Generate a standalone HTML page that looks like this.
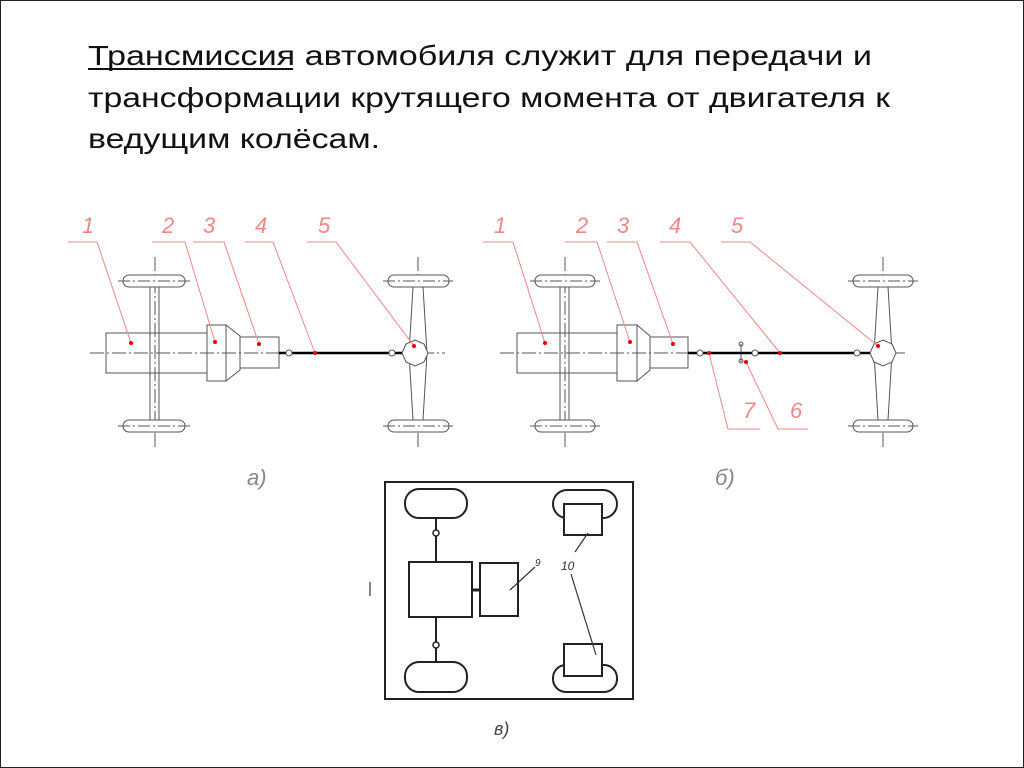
<!DOCTYPE html>
<html><head><meta charset="utf-8"><style>
html,body{margin:0;padding:0;background:#fff;}
svg{display:block;}
</style></head><body>
<svg width="1024" height="768" viewBox="0 0 1024 768" xmlns="http://www.w3.org/2000/svg" font-family="Liberation Sans, sans-serif">
<rect x="0.5" y="0.5" width="1023" height="767" fill="#fff" stroke="#222" stroke-width="1"/>
<g font-size="28" fill="#111">
<text x="88" y="65" textLength="784" lengthAdjust="spacingAndGlyphs">Трансмиссия автомобиля служит для передачи и</text>
<text x="88" y="107" textLength="802" lengthAdjust="spacingAndGlyphs">трансформации крутящего момента от двигателя к</text>
<text x="88" y="148" textLength="292" lengthAdjust="spacingAndGlyphs">ведущим колёсам.</text>
</g>
<line x1="88" y1="69" x2="293" y2="69" stroke="#111" stroke-width="2"/>

<!-- Diagram a -->
<g fill="none" stroke="#555" stroke-width="1">
 <!-- centerlines -->
 <line x1="90" y1="353" x2="445" y2="353" stroke-dasharray="14,3,2,3"/>
 <line x1="155" y1="257" x2="155" y2="448" stroke-dasharray="14,3,2,3"/>
 <line x1="418" y1="257" x2="418" y2="448" stroke-dasharray="14,3,2,3"/>
 <!-- front axle -->
 <line x1="150" y1="287" x2="150" y2="420"/><line x1="159" y1="287" x2="159" y2="420"/>
 <rect x="123" y="275" width="62" height="12" rx="6" fill="#fff"/>
 <rect x="123" y="420" width="62" height="12" rx="6" fill="#fff"/>
 <line x1="118" y1="281" x2="190" y2="281" stroke-dasharray="12,3,2,3"/>
 <line x1="118" y1="426" x2="190" y2="426" stroke-dasharray="12,3,2,3"/>
 <!-- rear axle -->
 <polygon points="413,287 423,287 427,353 423,420 413,420 409,353" fill="#fff"/>
 <rect x="388" y="275" width="61" height="12" rx="6" fill="#fff"/>
 <rect x="388" y="420" width="61" height="12" rx="6" fill="#fff"/>
 <line x1="383" y1="281" x2="453" y2="281" stroke-dasharray="12,3,2,3"/>
 <line x1="383" y1="426" x2="453" y2="426" stroke-dasharray="12,3,2,3"/>
 <!-- engine etc -->
 <rect x="106" y="333" width="101" height="40" fill="none"/>
 <rect x="207" y="325" width="19" height="56" fill="#fff"/>
 <polygon points="226,325 240,336 240,370 226,381" fill="#fff"/>
 <rect x="240" y="337" width="39" height="31" fill="#fff"/>
 <line x1="90" y1="353" x2="290" y2="353" stroke-dasharray="14,3,2,3"/>
</g>
<line x1="279" y1="353" x2="406" y2="353" stroke="#000" stroke-width="2.5"/>
<g fill="#fff" stroke="#555"><circle cx="289" cy="353" r="3"/><circle cx="392" cy="353" r="3"/>
<polygon points="415,340 424,344 428,353 424,362 415,366 406,362 402,353 406,344"/></g>
<g stroke="#e88" stroke-width="1" fill="none">
 <polyline points="68,242 97,242 131,343"/>
 <polyline points="152,242 185,242 215,342"/>
 <polyline points="193,242 224,242 259,344"/>
 <polyline points="245,242 273,242 315,353"/>
 <polyline points="307,242 336,242 414,346"/>
</g>
<g fill="#e00"><circle cx="131" cy="343" r="2"/><circle cx="215" cy="342" r="2"/><circle cx="259" cy="344" r="2"/><circle cx="315" cy="353" r="2"/><circle cx="414" cy="346" r="2"/></g>
<g fill="#e88" font-size="22" font-style="italic">
<text x="82" y="233">1</text><text x="162" y="233">2</text><text x="203" y="233">3</text><text x="255" y="233">4</text><text x="318" y="233">5</text>
</g>
<text x="247" y="485" font-size="22" font-style="italic" fill="#888">а)</text>

<!-- Diagram b -->
<g fill="none" stroke="#555" stroke-width="1">
 <line x1="500" y1="353" x2="905" y2="353" stroke-dasharray="14,3,2,3"/>
 <line x1="565" y1="257" x2="565" y2="448" stroke-dasharray="14,3,2,3"/>
 <line x1="883" y1="257" x2="883" y2="448" stroke-dasharray="14,3,2,3"/>
 <line x1="560" y1="287" x2="560" y2="420"/><line x1="569" y1="287" x2="569" y2="420"/>
 <rect x="535" y="275" width="60" height="12" rx="6" fill="#fff"/>
 <rect x="535" y="420" width="60" height="12" rx="6" fill="#fff"/>
 <line x1="530" y1="281" x2="600" y2="281" stroke-dasharray="12,3,2,3"/>
 <line x1="530" y1="426" x2="600" y2="426" stroke-dasharray="12,3,2,3"/>
 <polygon points="878,287 888,287 892,353 888,420 878,420 874,353" fill="#fff"/>
 <rect x="853" y="275" width="60" height="12" rx="6" fill="#fff"/>
 <rect x="853" y="420" width="60" height="12" rx="6" fill="#fff"/>
 <line x1="848" y1="281" x2="918" y2="281" stroke-dasharray="12,3,2,3"/>
 <line x1="848" y1="426" x2="918" y2="426" stroke-dasharray="12,3,2,3"/>
 <rect x="517" y="333" width="100" height="40"/>
 <rect x="617" y="325" width="20" height="56" fill="#fff"/>
 <polygon points="637,325 650,336 650,370 637,381" fill="#fff"/>
 <rect x="650" y="337" width="38" height="31" fill="#fff"/>
 <line x1="500" y1="353" x2="695" y2="353" stroke-dasharray="14,3,2,3"/>
 <line x1="741" y1="344" x2="741" y2="362"/><circle cx="741" cy="344" r="2"/><circle cx="741" cy="361" r="2"/>
</g>
<line x1="688" y1="353" x2="872" y2="353" stroke="#000" stroke-width="2.5"/>
<g fill="#fff" stroke="#555"><circle cx="700" cy="353" r="3"/><circle cx="755" cy="353" r="3"/><circle cx="857" cy="353" r="3"/>
<polygon points="883,340 892,344 896,353 892,362 883,366 874,362 870,353 874,344"/></g>
<g stroke="#e88" stroke-width="1" fill="none">
 <polyline points="483,242 513,242 545,343"/>
 <polyline points="565,242 597,242 630,342"/>
 <polyline points="607,242 637,242 673,344"/>
 <polyline points="660,242 690,242 780,353"/>
 <polyline points="721,242 750,242 878,346"/>
 <polyline points="709,353 728,429 760,429"/>
 <polyline points="746,362 778,429 808,429"/>
</g>
<g fill="#e00"><circle cx="545" cy="343" r="2"/><circle cx="630" cy="342" r="2"/><circle cx="673" cy="344" r="2"/><circle cx="780" cy="353" r="2"/><circle cx="878" cy="346" r="2"/><circle cx="709" cy="353" r="2"/><circle cx="746" cy="362" r="2"/></g>
<g fill="#e88" font-size="22" font-style="italic">
<text x="494" y="233">1</text><text x="576" y="233">2</text><text x="617" y="233">3</text><text x="669" y="233">4</text><text x="731" y="233">5</text>
<text x="743" y="418">7</text><text x="790" y="418">6</text>
</g>
<text x="715" y="485" font-size="22" font-style="italic" fill="#888">б)</text>

<!-- Diagram v -->
<g fill="none" stroke="#222" stroke-width="2">
 <rect x="385" y="482" width="248" height="217"/>
 <rect x="405" y="489" width="62" height="29" rx="14" fill="#fff"/>
 <rect x="405" y="662" width="62" height="30" rx="14" fill="#fff"/>
 <line x1="436" y1="518" x2="436" y2="562"/><line x1="436" y1="617" x2="436" y2="662"/>
 <rect x="409" y="562" width="63" height="55" fill="#fff"/>
 <line x1="472" y1="590" x2="480" y2="590" stroke-width="3"/>
 <rect x="480" y="563" width="38" height="53" fill="#fff"/>
 <rect x="553" y="490" width="64" height="28" rx="14" fill="#fff"/>
 <rect x="564" y="504" width="38" height="31" fill="#fff"/>
 <rect x="553" y="665" width="64" height="27" rx="13" fill="#fff"/>
 <rect x="564" y="644" width="38" height="32" fill="#fff"/>
</g>
<g fill="#fff" stroke="#222" stroke-width="1.5"><circle cx="436" cy="533" r="3"/><circle cx="436" cy="645" r="3"/></g>
<g stroke="#333" stroke-width="1.2" fill="none">
 <line x1="510" y1="590" x2="535" y2="567"/>
 <line x1="588" y1="533" x2="575" y2="552"/>
 <line x1="571" y1="574" x2="596" y2="655"/>
 <line x1="370" y1="582" x2="370" y2="596"/>
</g>
<text x="535" y="566" font-size="10" font-style="italic" fill="#333">9</text>
<text x="561" y="570" font-size="12" font-style="italic" fill="#333">10</text>
<text x="494" y="735" font-size="18" font-style="italic" fill="#444">в)</text>
</svg>
</body></html>
